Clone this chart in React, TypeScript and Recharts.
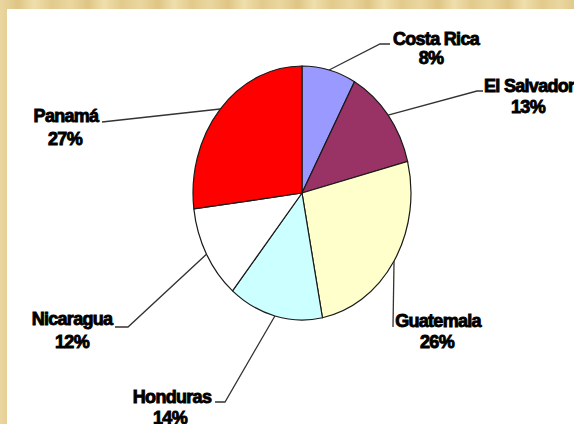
import { PieChart, Pie, Cell } from "recharts";

const countries = ["Costa Rica", "El Salvador", "Guatemala", "Honduras", "Nicaragua", "Panamá"];
const shares = [8, 13, 26, 14, 12, 27];
const sliceColors = ["#9999FF", "#993366", "#FFFFCC", "#CCFFFF", "#FFFFFF", "#FF0000"];

const pieData = countries.map((country, i) => ({ country, share: shares[i] }));

// where each label sits, relative to the pie centre (the leader starts on the slice edge)
const labelLayout: Record<
  string,
  { tx: number; ty: number; anchor: "start" | "middle"; px: number; py: number; bx: number; by: number; ex: number; ey: number }
> = {
  "Costa Rica": { tx: 134, ty: -148, anchor: "middle", px: 129, py: -129, bx: 78, by: -149, ex: 88, ey: -149 },
  "El Salvador": { tx: 182, ty: -101, anchor: "start", px: 226, py: -80, bx: 175, by: -102, ex: 181, ey: -102 },
  Guatemala: { tx: 136, ty: 134, anchor: "middle", px: 135, py: 155, bx: 91, by: 134, ex: 91, ey: 134 },
  Honduras: { tx: -130, ty: 210, anchor: "middle", px: -132, py: 231, bx: -77, by: 209, ex: -87, ey: 209 },
  Nicaragua: { tx: -230, ty: 132, anchor: "middle", px: -230, py: 155, bx: -174, by: 134, ex: -187, ey: 134 },
  "Panamá": { tx: -236, ty: -71, anchor: "middle", px: -237, py: -48, bx: -200, by: -71, ex: -200, ey: -71 },
};

const SX = 109 / 127; // the pie is drawn squashed sideways
const RAD = Math.PI / 180;
const FONT = "'Liberation Sans', Arial, sans-serif";

function EllipseSlice(props: any) {
  const { cx, cy, outerRadius, startAngle, endAngle, fill } = props;
  const rx = outerRadius * SX;
  const ry = outerRadius;
  const pt = (a: number) => [cx + rx * Math.cos(-a * RAD), cy + ry * Math.sin(-a * RAD)];
  const [x0, y0] = pt(startAngle);
  const [x1, y1] = pt(endAngle);
  const large = Math.abs(endAngle - startAngle) > 180 ? 1 : 0;
  const sweep = startAngle > endAngle ? 1 : 0;
  const d = `M${cx},${cy} L${x0},${y0} A${rx},${ry} 0 ${large} ${sweep} ${x1},${y1} Z`;
  return <path d={d} fill={fill} stroke="#1a1a1a" strokeWidth={1.2} />;
}

function CountryLabel(props: any) {
  const { cx, cy, midAngle, outerRadius, percent, payload } = props;
  const name = payload?.country ?? props.name;
  const lay = labelLayout[name];
  if (!lay) return null;
  const sx = cx + outerRadius * SX * Math.cos(-midAngle * RAD);
  const sy = cy + outerRadius * Math.sin(-midAngle * RAD);
  const textStyle = {
    fontFamily: FONT,
    fontSize: 18,
    fontWeight: 700,
    letterSpacing: -0.7,
  };
  return (
    <g>
      <polyline
        points={`${sx},${sy} ${cx + lay.bx},${cy + lay.by} ${cx + lay.ex},${cy + lay.ey}`}
        fill="none"
        stroke="#333"
        strokeWidth={1.3}
      />
      <text x={cx + lay.tx} y={cy + lay.ty} textAnchor={lay.anchor} fill="#000" stroke="#000" strokeWidth={0.9} style={textStyle}>
        {name}
      </text>
      <text x={cx + lay.px} y={cy + lay.py} textAnchor="middle" fill="#000" stroke="#000" strokeWidth={0.9} style={textStyle}>
        {Math.round(percent * 100)}%
      </text>
    </g>
  );
}

export default function App() {
  return (
    <div
      style={{
        position: "absolute",
        left: 0,
        top: 0,
        width: 574,
        height: 424,
        overflow: "hidden",
        background:
          "repeating-linear-gradient(90deg, #ead7a0 0px, #dfc585 18px, #efdfac 34px, #e2ca8c 52px, #ead7a0 70px)",
      }}
    >
      <div style={{ position: "absolute", left: 7, top: 9, width: 567, height: 415, background: "#fff" }} />
      <div style={{ position: "absolute", left: 0, top: 0 }}>
        <PieChart width={574} height={424}>
          <Pie
            data={pieData}
            dataKey="share"
            nameKey="country"
            cx={297}
            cy={188}
            outerRadius={127}
            startAngle={90}
            endAngle={-270}
            shape={EllipseSlice}
            label={CountryLabel}
            labelLine={false}
            isAnimationActive={false}
          >
            {pieData.map((d, i) => (
              <Cell key={d.country} fill={sliceColors[i]} />
            ))}
          </Pie>
        </PieChart>
      </div>
    </div>
  );
}
